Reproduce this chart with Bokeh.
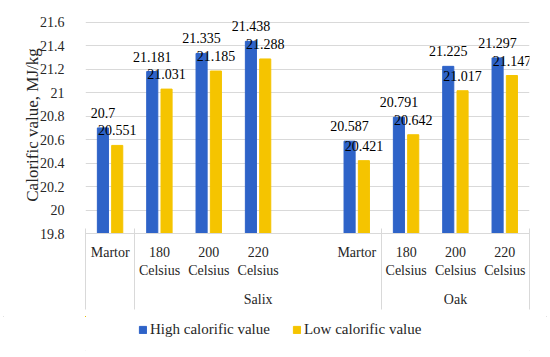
from bokeh.plotting import figure
from bokeh.layouts import column
from bokeh.models import Range1d, FixedTicker, LinearAxis, Legend, LegendItem, ColumnDataSource
from bokeh.core.properties import value
from bokeh.embed import file_html
from bokeh.resources import INLINE

# ---- data ----
categories = ["Martor", "180\nCelsius", "200\nCelsius", "220\nCelsius", "",
              "Martor", "180\nCelsius", "200\nCelsius", "220\nCelsius"]
groups = ["Salix", "Oak"]
group_bounds = [1, 6, 9]
high = [20.7, 21.181, 21.335, 21.438, None, 20.587, 20.791, 21.225, 21.297]
low = [20.551, 21.031, 21.185, 21.288, None, 20.421, 20.642, 21.017, 21.147]
y_ticks = [19.8, 20.0, 20.2, 20.4, 20.6, 20.8, 21.0, 21.2, 21.4, 21.6]
y_tick_labels = ["19.8", "20", "20.2", "20.4", "20.6", "20.8", "21", "21.2", "21.4", "21.6"]
series_names = ["High calorific value", "Low calorific value"]

FONT = "Liberation Serif"
FS = "14px"
BLUE = "#2E63C8"
YELLOW = "#F5C400"
TXT = "#262626"
GRID = "#D9D9D9"
BASE = y_ticks[0]
N = len(categories)

centers = [i + 0.5 for i in range(N)]

def src(vals, off):
    xs, ys, ts = [], [], []
    for c, v in zip(centers, vals):
        if v is None:
            continue
        xs.append(c + off)
        ys.append(v)
        ts.append(str(v))
    return ColumnDataSource(dict(x=xs, y=ys, t=ts))

s_high = src(high, -0.147)
s_low = src(low, 0.143)

p = figure(width=550, height=316, output_backend="svg", toolbar_location=None,
           x_range=Range1d(0, N), y_range=Range1d(BASE, 21.65),
           min_border_left=85, min_border_right=21, min_border_top=16, min_border_bottom=83,
           x_axis_type=None)
p.outline_line_color = None
p.background_fill_color = "white"

r1 = p.vbar(x="x", top="y", bottom=BASE, width=0.225, source=s_high, color=BLUE)
r2 = p.vbar(x="x", top="y", bottom=BASE, width=0.225, source=s_low, color=YELLOW)

for s in (s_high, s_low):
    p.text(x="x", y="y", text="t", source=s, text_align="center", text_baseline="middle",
           y_offset=-15, text_font=value(FONT), text_font_size=FS, text_color="black")

# y axis
ya = p.yaxis[0]
ya.ticker = FixedTicker(ticks=y_ticks)
ya.major_label_overrides = {t: l for t, l in zip(y_ticks, y_tick_labels)}
ya.axis_line_color = None
ya.major_tick_line_color = None
ya.minor_tick_line_color = None
ya.major_label_standoff = 15
ya.major_label_text_font = FONT
ya.major_label_text_font_size = FS
ya.major_label_text_color = TXT
ya.axis_label = "Calorific value, MJ/kg"
ya.axis_label_text_font = FONT
ya.axis_label_text_font_size = "17px"
ya.axis_label_text_font_style = "normal"
ya.axis_label_text_color = TXT
ya.axis_label_standoff = -5

p.ygrid.ticker = FixedTicker(ticks=y_ticks)
p.ygrid.grid_line_color = GRID
p.xgrid.grid_line_color = None

# x axis: categories
xa = LinearAxis(ticker=FixedTicker(ticks=[c for c, n in zip(centers, categories) if n]))
xa.major_label_overrides = {c: n for c, n in zip(centers, categories) if n}
xa.axis_line_color = GRID
xa.major_tick_line_color = None
xa.minor_tick_line_color = None
xa.major_tick_out = 0
xa.major_label_standoff = 11
xa.major_label_text_font = FONT
xa.major_label_text_font_size = FS
xa.major_label_text_color = TXT
p.add_layout(xa, "below")

# group axis
gcent = [(group_bounds[i] + group_bounds[i + 1]) / 2 for i in range(len(groups))]
ga = LinearAxis(ticker=FixedTicker(ticks=gcent))
ga.major_label_overrides = {c: g for c, g in zip(gcent, groups)}
ga.axis_line_color = None
ga.major_tick_line_color = None
ga.minor_tick_line_color = None
ga.major_tick_out = 0
ga.major_label_standoff = 11
ga.major_label_text_font = FONT
ga.major_label_text_font_size = FS
ga.major_label_text_color = TXT
p.add_layout(ga, "below")

# separator axis (ticks reach up to the plot frame)
sep = [0.001] + group_bounds[:-1] + [N - 0.001]
sa = LinearAxis(ticker=FixedTicker(ticks=sep))
sa.major_label_text_font_size = "1px"
sa.major_label_text_color = None
sa.major_label_standoff = 0
sa.axis_line_color = None
sa.major_tick_line_color = GRID
sa.major_tick_in = 81
sa.major_tick_out = 0
sa.minor_tick_line_color = None
p.add_layout(sa, "below")

# legend strip (its ranges keep the data bars off-screen; only the legend shows)
q = figure(width=550, height=38, output_backend="svg", toolbar_location=None,
           x_range=Range1d(1000, 1001), y_range=Range1d(-1001, -1000),
           x_axis_location=None, y_axis_location=None,
           min_border_left=0, min_border_right=0, min_border_top=0, min_border_bottom=0)
q.outline_line_color = None
q.xgrid.visible = False
q.ygrid.visible = False
l1 = q.vbar(x="x", top="y", bottom=BASE, width=0.225, source=s_high, color=BLUE)
l2 = q.vbar(x="x", top="y", bottom=BASE, width=0.225, source=s_low, color=YELLOW)
legend = Legend(items=[LegendItem(label=series_names[0], renderers=[l1]),
                       LegendItem(label=series_names[1], renderers=[l2])],
                orientation="horizontal", location=(53, 16),
                glyph_width=9, glyph_height=9, label_standoff=3, spacing=22,
                padding=0, margin=0, border_line_color=None, background_fill_alpha=0,
                label_text_font=FONT, label_text_font_size="15px", label_text_color=TXT)
q.add_layout(legend, "center")

layout = column(p, q, spacing=0,
                styles={"outline": "1px solid #D9D9D9", "outline-offset": "-4px"})
open("out.html", "w").write(file_html(layout, INLINE))
